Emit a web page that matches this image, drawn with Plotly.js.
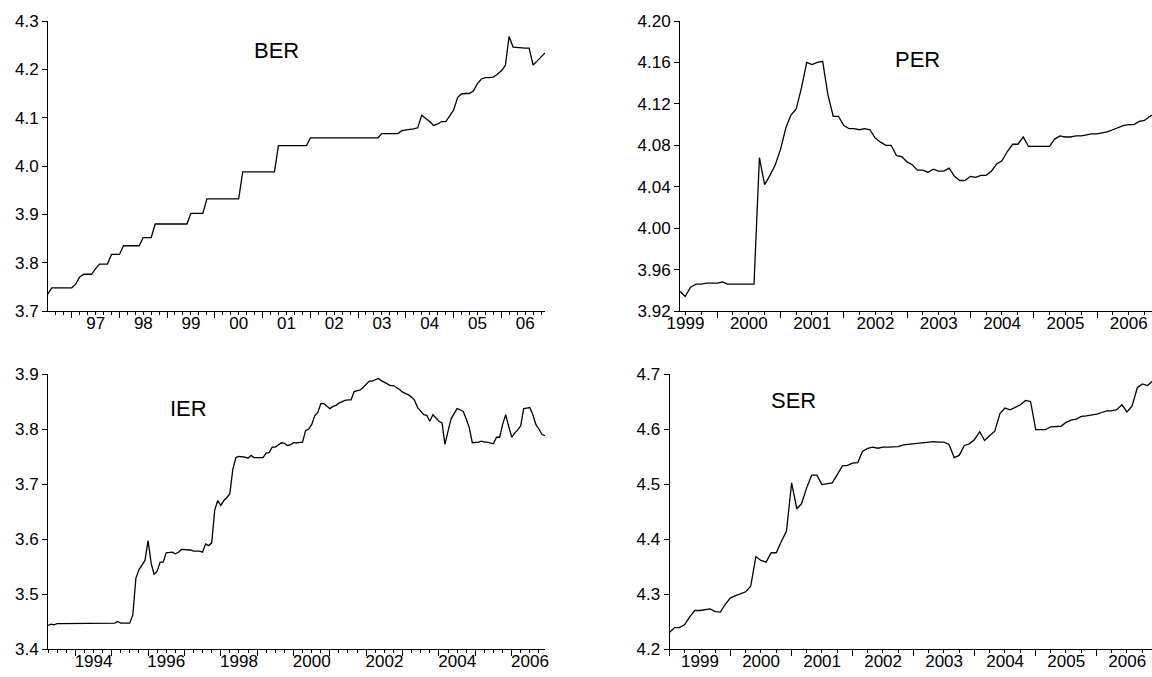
<!DOCTYPE html>
<html>
<head>
<meta charset="utf-8">
<script src="https://cdn.plot.ly/plotly-3.0.1.min.js"></script>
<style>
  html, body { margin: 0; padding: 0; overflow: hidden; background: #fff; }
  #chart { width: 1158px; height: 677px; }
</style>
</head>
<body>
<div id="chart"></div>
<script>
// ---------- DATA (monthly observations) ----------
// BER: 1996M07 - 2006M12
const berStart = [1996, 7];
const berValues = [
  3.735, 3.748, 3.748, 3.748, 3.748, 3.748,
  3.748, 3.756, 3.770, 3.776, 3.776, 3.776, 3.787, 3.797, 3.797, 3.797, 3.817, 3.817,
  3.817, 3.835, 3.835, 3.835, 3.835, 3.835, 3.852, 3.852, 3.852, 3.880, 3.880, 3.880,
  3.880, 3.880, 3.880, 3.880, 3.880, 3.880, 3.902, 3.902, 3.902, 3.902, 3.932, 3.932,
  3.932, 3.932, 3.932, 3.932, 3.932, 3.932, 3.932, 3.988, 3.988, 3.988, 3.988, 3.988,
  3.988, 3.988, 3.988, 3.988, 4.042, 4.042, 4.042, 4.042, 4.042, 4.042, 4.042, 4.042,
  4.058, 4.058, 4.058, 4.058, 4.058, 4.058, 4.058, 4.058, 4.058, 4.058, 4.058, 4.058,
  4.058, 4.058, 4.058, 4.058, 4.058, 4.058, 4.067, 4.067, 4.067, 4.067, 4.067, 4.073,
  4.075, 4.076, 4.077, 4.079, 4.105, 4.099, 4.092, 4.084, 4.087, 4.092, 4.092, 4.103,
  4.116, 4.142, 4.149, 4.150, 4.150, 4.155, 4.170, 4.180, 4.183, 4.183, 4.184, 4.190,
  4.197, 4.208, 4.268, 4.246, 4.245, 4.244, 4.244, 4.244, 4.209, 4.217, 4.225, 4.234
];

// PER: 1999M06 - 2006M12
const perStart = [1999, 6];
const perValues = [
  3.939, 3.934, 3.943, 3.946, 3.946, 3.947, 3.947,
  3.947, 3.948, 3.946, 3.946, 3.946, 3.946, 3.946, 3.946, 4.068, 4.042, 4.051, 4.061,
  4.076, 4.097, 4.109, 4.115, 4.135, 4.160, 4.158, 4.160, 4.161, 4.129, 4.108, 4.108,
  4.099, 4.096, 4.096, 4.095, 4.096, 4.095, 4.087, 4.083, 4.080, 4.080, 4.070, 4.069,
  4.064, 4.061, 4.056, 4.056, 4.054, 4.057, 4.055, 4.055, 4.058, 4.050, 4.046, 4.046,
  4.050, 4.049, 4.051, 4.051, 4.055, 4.062, 4.065, 4.074, 4.081, 4.081, 4.088, 4.079,
  4.079, 4.079, 4.079, 4.079, 4.086, 4.089, 4.088, 4.088, 4.089, 4.089, 4.090, 4.091,
  4.091, 4.092, 4.093, 4.095, 4.097, 4.099, 4.100, 4.100, 4.103, 4.104, 4.108, 4.110
];

// IER: 1993M04 - 2006M12
const ierStart = [1993, 4];
const ierValues = [
  3.443, 3.445, 3.444, 3.446, 3.446, 3.446, 3.446, 3.446, 3.446, 3.446,
  3.446, 3.446, 3.446, 3.446, 3.446, 3.446, 3.446, 3.446, 3.446, 3.446,
  3.446, 3.446, 3.447, 3.450, 3.447, 3.447, 3.447, 3.447, 3.462, 3.529,
  3.544, 3.553, 3.561, 3.597, 3.556, 3.536, 3.541, 3.558, 3.558, 3.575,
  3.575, 3.576, 3.573, 3.576, 3.581, 3.581, 3.580, 3.580, 3.578, 3.578,
  3.578, 3.576, 3.591, 3.588, 3.593, 3.653, 3.670, 3.661, 3.670, 3.675,
  3.682, 3.726, 3.748, 3.750, 3.750, 3.749, 3.747, 3.752, 3.748, 3.748,
  3.748, 3.748, 3.756, 3.757, 3.767, 3.767, 3.771, 3.775, 3.774, 3.770,
  3.771, 3.775, 3.775, 3.775, 3.776, 3.797, 3.800, 3.808, 3.824, 3.830,
  3.846, 3.846, 3.842, 3.837, 3.841, 3.843, 3.847, 3.850, 3.852, 3.853,
  3.853, 3.868, 3.870, 3.871, 3.876, 3.882, 3.887, 3.887, 3.890, 3.892,
  3.888, 3.885, 3.882, 3.879, 3.879, 3.876, 3.872, 3.867, 3.865, 3.862,
  3.858, 3.852, 3.839, 3.832, 3.826, 3.825, 3.814, 3.826, 3.820, 3.814,
  3.811, 3.772, 3.796, 3.818, 3.828, 3.837, 3.835, 3.832, 3.818, 3.802,
  3.775, 3.775, 3.776, 3.778, 3.776, 3.776, 3.775, 3.773, 3.785, 3.785,
  3.808, 3.826, 3.805, 3.785, 3.793, 3.798, 3.806, 3.837, 3.838, 3.839,
  3.826, 3.808, 3.800, 3.790, 3.788
];

// SER: 1999M01 - 2006M12
const serStart = [1999, 1];
const serValues = [
  4.230, 4.239, 4.239, 4.244, 4.258, 4.270, 4.270, 4.272, 4.273, 4.268, 4.267, 4.281,
  4.293, 4.297, 4.301, 4.304, 4.314, 4.368, 4.361, 4.358, 4.375, 4.375, 4.396, 4.414,
  4.502, 4.455, 4.464, 4.493, 4.516, 4.516, 4.499, 4.500, 4.502, 4.517, 4.533, 4.534,
  4.538, 4.539, 4.559, 4.565, 4.567, 4.565, 4.567, 4.567, 4.567, 4.568, 4.571, 4.572,
  4.573, 4.574, 4.575, 4.576, 4.577, 4.576, 4.576, 4.572, 4.548, 4.552, 4.570, 4.573,
  4.581, 4.595, 4.579, 4.588, 4.596, 4.628, 4.638, 4.635, 4.640, 4.644, 4.652, 4.650,
  4.599, 4.599, 4.599, 4.604, 4.604, 4.605, 4.612, 4.616, 4.618, 4.623, 4.624, 4.625,
  4.627, 4.630, 4.633, 4.633, 4.635, 4.644, 4.631, 4.642, 4.675, 4.682, 4.679, 4.687
];

const panelTitles = ['BER', 'PER', 'IER', 'SER'];

// ---------- helpers ----------
function monthDates(start, n) {
  const out = [];
  let y = start[0], m = start[1];
  for (let i = 0; i < n; i++) {
    out.push(y + '-' + String(m).padStart(2, '0') + '-01');
    m++; if (m > 12) { m = 1; y++; }
  }
  return out;
}

const W = 1158, H = 677;
const xd = (a, b) => [a / W, b / W];
const yd = (bottomPx, topPx) => [(H - bottomPx) / H, (H - topPx) / H];

const FONT = 'Arial, "Liberation Sans", sans-serif';
const lineStyle = { color: '#000', width: 1.3 };

const traces = [
  { x: monthDates(berStart, berValues.length), y: berValues, xaxis: 'x', yaxis: 'y' },
  { x: monthDates(perStart, perValues.length), y: perValues, xaxis: 'x2', yaxis: 'y2' },
  { x: monthDates(ierStart, ierValues.length), y: ierValues, xaxis: 'x3', yaxis: 'y3' },
  { x: monthDates(serStart, serValues.length), y: serValues, xaxis: 'x4', yaxis: 'y4' }
].map(t => Object.assign(t, { type: 'scatter', mode: 'lines', line: lineStyle, hoverinfo: 'skip', cliponaxis: true }));

function xAxis(domain, anchor, range, fmt, minorDtick, extra) {
  return Object.assign({
    type: 'date', domain: domain, anchor: anchor, range: range,
    dtick: 'M12', tick0: '2000-01-01', tickformat: fmt, ticklabelmode: 'period',
    ticklabelstandoff: -9,
    ticks: 'outside', ticklen: 6, tickwidth: 1, tickcolor: '#000',
    minor: { dtick: minorDtick, tick0: '2000-01-01', ticks: 'outside', ticklen: 3, tickwidth: 1, tickcolor: '#000', showgrid: false },
    showline: true, linecolor: '#000', linewidth: 1,
    showgrid: false, zeroline: false,
    tickfont: { family: FONT, size: 17, color: '#000' }
  }, extra || {});
}
function yAxis(domain, anchor, range, dtick, fmt) {
  return {
    domain: domain, anchor: anchor, range: range,
    tick0: range[0], dtick: dtick, tickformat: fmt,
    ticks: 'outside', ticklen: 5, tickwidth: 1, tickcolor: '#000',
    showline: true, linecolor: '#000', linewidth: 1,
    showgrid: false, zeroline: false,
    tickfont: { family: FONT, size: 17, color: '#000' }
  };
}

const topY = yd(311, 21), botY = yd(649, 374);

const layout = {
  width: W, height: H,
  margin: { l: 0, r: 0, t: 0, b: 0 },
  paper_bgcolor: '#fff', plot_bgcolor: '#fff',
  showlegend: false,
  font: { family: FONT, color: '#000' },
  xaxis:  xAxis(xd(48, 545), 'y',  ['1996-07-03', '2006-12-01'], '%y', 'M2'),
  yaxis:  yAxis(topY, 'x',  [3.7, 4.3], 0.1, '.1f'),
  xaxis2: xAxis(xd(680, 1155), 'y2', ['1999-06-01', '2006-12-01'], '%Y', 'M3'),
  yaxis2: yAxis(topY, 'x2', [3.92, 4.2], 0.04, '.2f'),
  xaxis3: xAxis(xd(48, 545), 'y3', ['1993-04-01', '2006-12-01'], '%Y', 'M3', { tick0: '1994-01-01', ticklabelstep: 2 }),
  yaxis3: yAxis(botY, 'x3', [3.4, 3.9], 0.1, '.1f'),
  xaxis4: xAxis(xd(669.5, 1152.5), 'y4', ['1999-01-01', '2006-12-01'], '%Y', 'M3'),
  yaxis4: yAxis(botY, 'x4', [4.2, 4.7], 0.1, '.1f'),
  annotations: [
    [panelTitles[0], 276, 50],
    [panelTitles[1], 917, 60],
    [panelTitles[2], 188, 408],
    [panelTitles[3], 793, 400]
  ].map(a => ({
    text: a[0], xref: 'paper', yref: 'paper', x: a[1] / W, y: 1 - a[2] / H,
    xanchor: 'center', yanchor: 'middle', showarrow: false,
    font: { family: FONT, size: 22, color: '#000' }
  }))
};

Plotly.newPlot('chart', traces, layout, { displayModeBar: false, staticPlot: true });
</script>
</body>
</html>
